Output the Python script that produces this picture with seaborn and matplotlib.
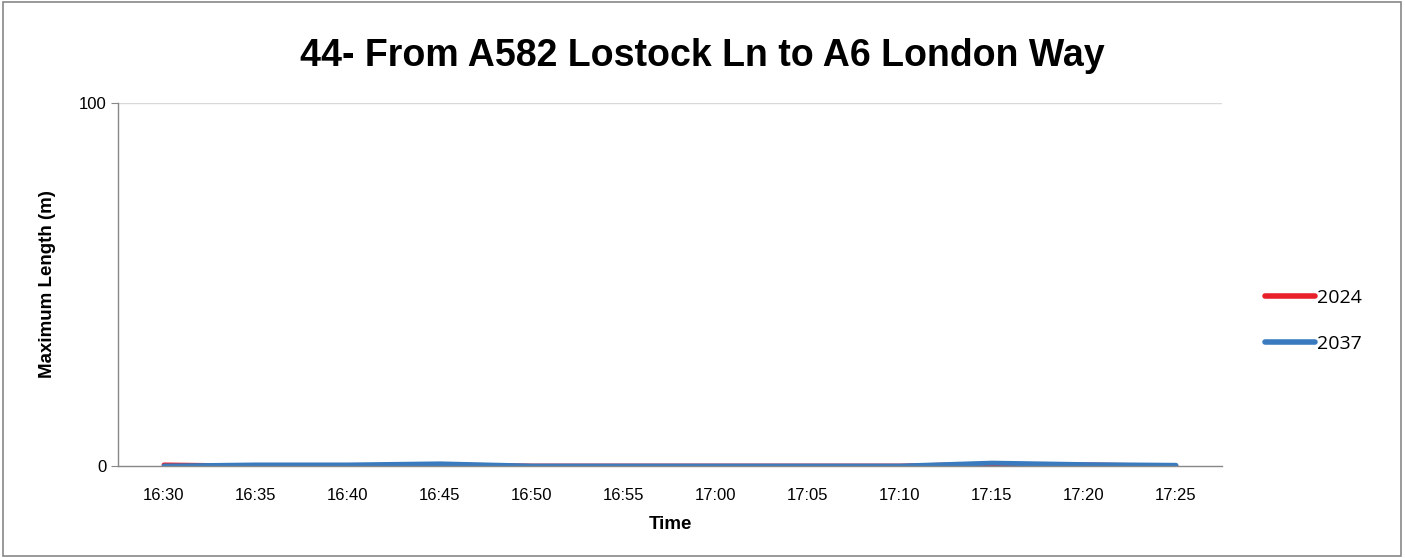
import numpy as np
import pandas as pd
import matplotlib
matplotlib.use("Agg")
import matplotlib.pyplot as plt
import seaborn as sns

# chart data
times = ["16:30", "16:35", "16:40", "16:45", "16:50", "16:55",
         "17:00", "17:05", "17:10", "17:15", "17:20", "17:25"]
len_2024 = [0.3, 0.0, 0.0, 0.3, 0.0, 0.0, 0.0, 0.0, 0.0, 0.5, 0.3, 0.0]
len_2037 = [0.0, 0.3, 0.3, 0.6, 0.0, 0.0, 0.0, 0.0, 0.0, 0.8, 0.4, 0.2]
series_names = ["2024", "2037"]
series_colors = ["#e8202a", "#3a7bbf"]

df = pd.DataFrame({
    "Time": times * 2,
    "Length": len_2024 + len_2037,
    "Year": [series_names[0]] * len(times) + [series_names[1]] * len(times),
})
df["pos"] = list(range(len(times))) * 2

sns.set_style("white")
plt.rcParams["font.family"] = ["Liberation Sans", "DejaVu Sans"]
plt.rcParams["text.color"] = "black"
plt.rcParams["axes.labelcolor"] = "black"
plt.rcParams["xtick.color"] = "black"
plt.rcParams["ytick.color"] = "black"

fig = plt.figure(figsize=(14.05, 5.58), dpi=100)
ax = fig.add_axes([118 / 1405, 1 - 466 / 558, 1104 / 1405, 363 / 558])

sns.lineplot(data=df, x="pos", y="Length", hue="Year", palette=series_colors,
             linewidth=3.5, ax=ax, legend=False, solid_capstyle="round")

ax.set_xlim(-0.5, len(times) - 0.5)
ax.set_ylim(0, 100)
ax.set_yticks([0, 100])
ax.set_yticklabels(["0", "100"], fontsize=12)
ax.set_xticks(range(len(times)))
ax.set_xticklabels(times, fontsize=12)
ax.set_xticks(np.arange(-0.5, len(times), 1), minor=True)
ax.tick_params(axis="x", which="major", length=0, pad=16)
ax.tick_params(axis="x", which="minor", length=5, color="#888888", direction="out")
ax.tick_params(axis="y", length=5, color="#888888", direction="out", left=True)
ax.axhline(100, color="#d9d9d9", lw=1, zorder=0)

for s in ["top", "right"]:
    ax.spines[s].set_visible(False)
for s in ["left", "bottom"]:
    ax.spines[s].set_color("#888888")
    ax.spines[s].set_linewidth(1)

ax.set_xlabel("Time", fontsize=13.5, fontweight="bold", labelpad=9)
ax.set_ylabel("Maximum Length (m)", fontsize=13.5, fontweight="bold", labelpad=16)

fig.suptitle("44- From A582 Lostock Ln to A6 London Way", fontsize=27,
             fontweight="bold", y=1 - 56 / 558, va="center")

handles = [plt.Line2D([0], [0], color=c, lw=4, solid_capstyle="round")
           for c in series_colors]
fig.legend(handles, series_names, loc="center left",
           bbox_to_anchor=(1247 / 1405, 1 - 321 / 558), frameon=False,
           prop={"family": "Open Sans", "size": 14}, handlelength=2.6,
           handletextpad=0.1, labelspacing=1.45)

# outer border
fig.patches.append(plt.Rectangle((0.002, 0.003), 0.995, 0.994,
                                 transform=fig.transFigure, fill=False,
                                 edgecolor="#888888", lw=1.2))

fig.savefig("out.png", dpi=100)
